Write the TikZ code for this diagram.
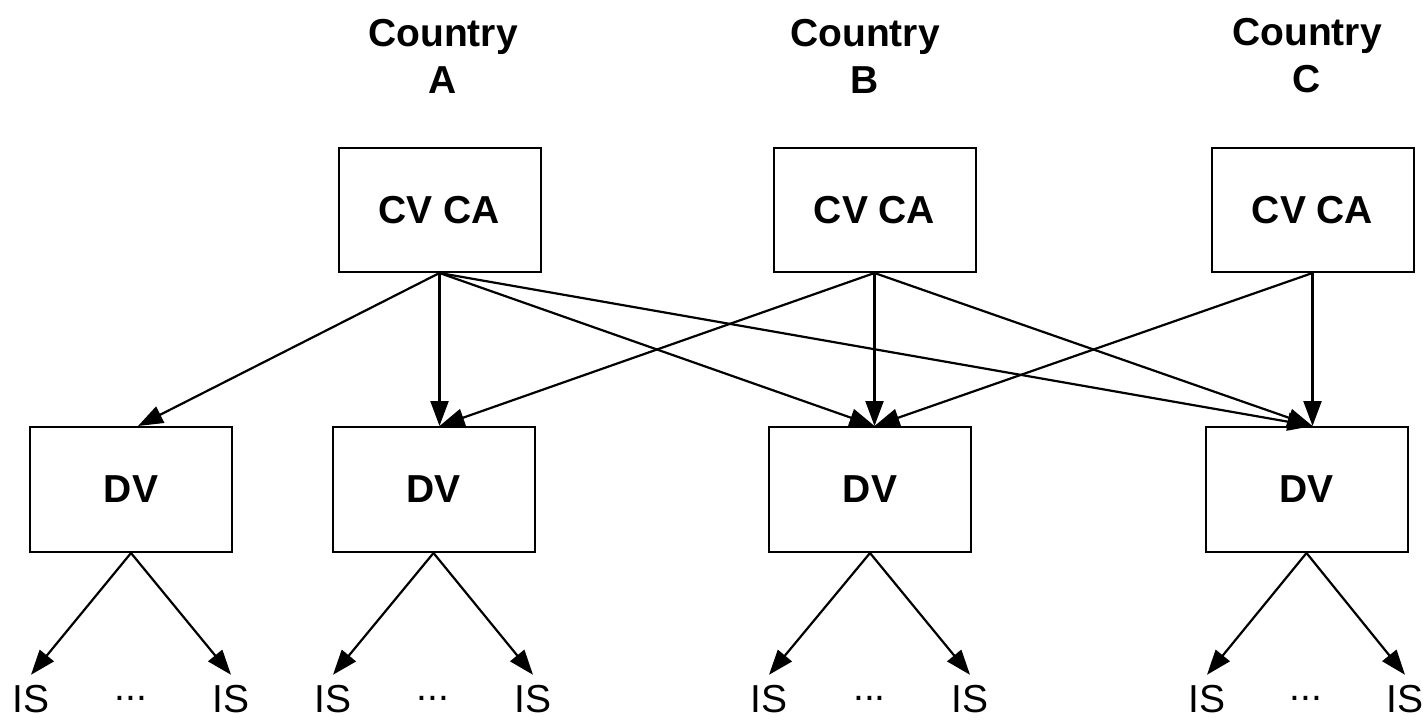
\documentclass[tikz,border=0pt]{standalone}
\usepackage{fontspec}
\setmainfont{Liberation Sans}
\usetikzlibrary{arrows.meta}
\begin{document}
\begin{tikzpicture}[x=0.5pt,y=-0.5pt,
  bigtext/.style={font=\fontsize{19.5pt}{23.5pt}\selectfont\bfseries},
  boxnode/.style={draw=black, line width=1pt, minimum width=101pt, minimum height=62pt, inner sep=0pt, bigtext},
  hdr/.style={align=center, inner sep=0pt, bigtext},
  isnode/.style={font=\fontsize{19.5pt}{23pt}\selectfont, inner sep=5pt},
  dotsnode/.style={font=\fontsize{19.5pt}{23pt}\selectfont, inner sep=0pt},
  conn/.style={line width=1.1pt, -{Triangle[length=12.5pt,width=9pt]}}
]
\useasboundingbox (0,0) rectangle (1423,721);

% headers
\node[hdr] (hA) at (443,56) {Country\\A};
\node[hdr] (hB) at (865,56) {Country\\B};
\node[hdr] (hC) at (1307,56) {Country\\C};

% CV CA boxes
\node[boxnode] (cvA) at (439.5,210) {CV CA};
\node[boxnode] (cvB) at (874.5,210) {CV CA};
\node[boxnode] (cvC) at (1312.5,210) {CV CA};

% DV boxes
\node[boxnode, minimum height=62.5pt] (dv1) at (131,489.5) {DV};
\node[boxnode, minimum height=62.5pt] (dv2) at (433.5,489.5) {DV};
\node[boxnode, minimum height=62.5pt] (dv3) at (870,489.5) {DV};
\node[boxnode, minimum height=62.5pt] (dv4) at (1306.5,489.5) {DV};

% arrow tips on DV boxes
\coordinate (t1) at ([xshift=3.5pt]dv1.north);
\coordinate (t2) at (cvA.south |- dv2.north);
\coordinate (t3) at (cvB.south |- dv3.north);
\coordinate (t4) at (cvC.south |- dv4.north);

% connectors from CV CA to DV
\draw[conn] (cvA.south) -- (t1);
\draw[conn] (cvA.south) -- (t2);
\draw[conn] (cvA.south) -- (t3);
\draw[conn] (cvA.south) -- (t4);
\draw[conn] (cvB.south) -- (t2);
\draw[conn] (cvB.south) -- (t3);
\draw[conn] (cvB.south) -- (t4);
\draw[conn] (cvC.south) -- (t3);
\draw[conn] (cvC.south) -- (t4);

% IS leaves
\foreach \d/\xl/\xr in {1/31/231, 2/333/533, 3/769/970, 4/1207/1405}{
  \node[isnode] (is\d l) at (\xl,699) {IS};
  \node[isnode] (is\d r) at (\xr,699) {IS};
  \node[dotsnode] (dots\d) at ({(\xl+\xr)/2},698) {...};
  \draw[conn] (dv\d.south) -- (is\d l.north);
  \draw[conn] (dv\d.south) -- (is\d r.north);
}
\end{tikzpicture}
\end{document}
